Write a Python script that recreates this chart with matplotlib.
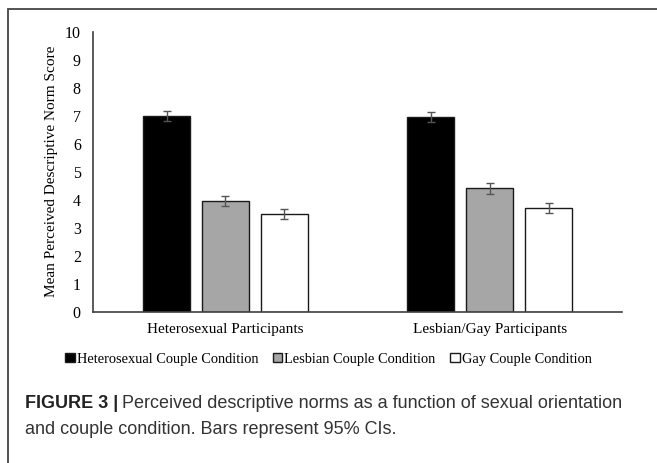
import numpy as np
import matplotlib
matplotlib.use("Agg")
import matplotlib.pyplot as plt
from matplotlib.patches import Rectangle

# mean perceived descriptive norm scores, 95% CI half-widths
groups = ["Heterosexual Participants", "Lesbian/Gay Participants"]
conditions = ["Heterosexual Couple Condition", "Lesbian Couple Condition", "Gay Couple Condition"]
hetero_cond = [6.99, 6.96]
lesbian_cond = [3.96, 4.41]
gay_cond = [3.49, 3.70]
hetero_ci = [0.19, 0.18]
lesbian_ci = [0.18, 0.20]
gay_ci = [0.18, 0.17]

colors = ["#000000", "#A6A6A6", "#FFFFFF"]
serif = "Liberation Serif"

fig = plt.figure(figsize=(6.57, 4.63), dpi=100)
ax = fig.add_axes([0.1420, 0.3272, 0.8047, 0.6037])

x = np.arange(len(groups))
width = 0.178
step = 0.223
series = [(hetero_cond, hetero_ci), (lesbian_cond, lesbian_ci), (gay_cond, gay_ci)]
for i, (vals, ci) in enumerate(series):
    ax.bar(x + (i - 1) * step, vals, width, color=colors[i], edgecolor="#1a1a1a",
           linewidth=1.0, label=conditions[i], zorder=2)
    ax.errorbar(x + (i - 1) * step, vals, yerr=ci, fmt="none", ecolor="#555555",
                elinewidth=1.0, capsize=3, capthick=1.0, zorder=3)

ax.set_xlim(-0.5, 1.5)
ax.set_ylim(0, 10)
ax.set_yticks(range(0, 11))
ax.set_xticks(x)
ax.set_xticklabels(groups, fontsize=11, family=serif)
for lbl in ax.get_yticklabels():
    lbl.set_fontfamily(serif)
    lbl.set_fontsize(11.5)
ax.tick_params(axis="both", length=0, pad=9)
ax.tick_params(axis="x", pad=8)
for side in ["top", "right"]:
    ax.spines[side].set_visible(False)
for side in ["left", "bottom"]:
    ax.spines[side].set_color("#404040")
    ax.spines[side].set_linewidth(1.2)

ax.set_ylabel("Mean Perceived Descriptive Norm Score", fontsize=11, family=serif)
ax.yaxis.set_label_coords(-0.066, 0.5)

fig.legend(loc="center", bbox_to_anchor=(0.5, 1 - 359 / 463), ncol=3, frameon=False,
           prop={"family": serif, "size": 10.4}, handlelength=0.65, handleheight=0.65,
           handletextpad=0.15, columnspacing=1.0, borderaxespad=0)

# caption
fig.canvas.draw()
renderer = fig.canvas.get_renderer()
cx = 25 / 657
head = fig.text(cx, 1 - 403 / 463, "FIGURE 3 |", fontsize=13, fontweight="bold",
                family="Liberation Sans", color="#222222", va="center")
bb = head.get_window_extent(renderer).transformed(fig.transFigure.inverted())
fig.text(bb.x1 + 4 / 657, 1 - 403 / 463,
         "Perceived descriptive norms as a function of sexual orientation",
         fontsize=13, family="Liberation Sans", color="#333333", va="center")
fig.text(cx, 1 - 430 / 463, "and couple condition. Bars represent 95% CIs.",
         fontsize=13, family="Liberation Sans", color="#333333", va="center")

# outer frame, open at right and bottom
fig.patches.append(Rectangle((8 / 657, -0.1), 1.2, 1 - 8.5 / 463 + 0.1,
                             transform=fig.transFigure, fill=False,
                             edgecolor="#444444", linewidth=1.3))

fig.savefig("out.png", dpi=100)
